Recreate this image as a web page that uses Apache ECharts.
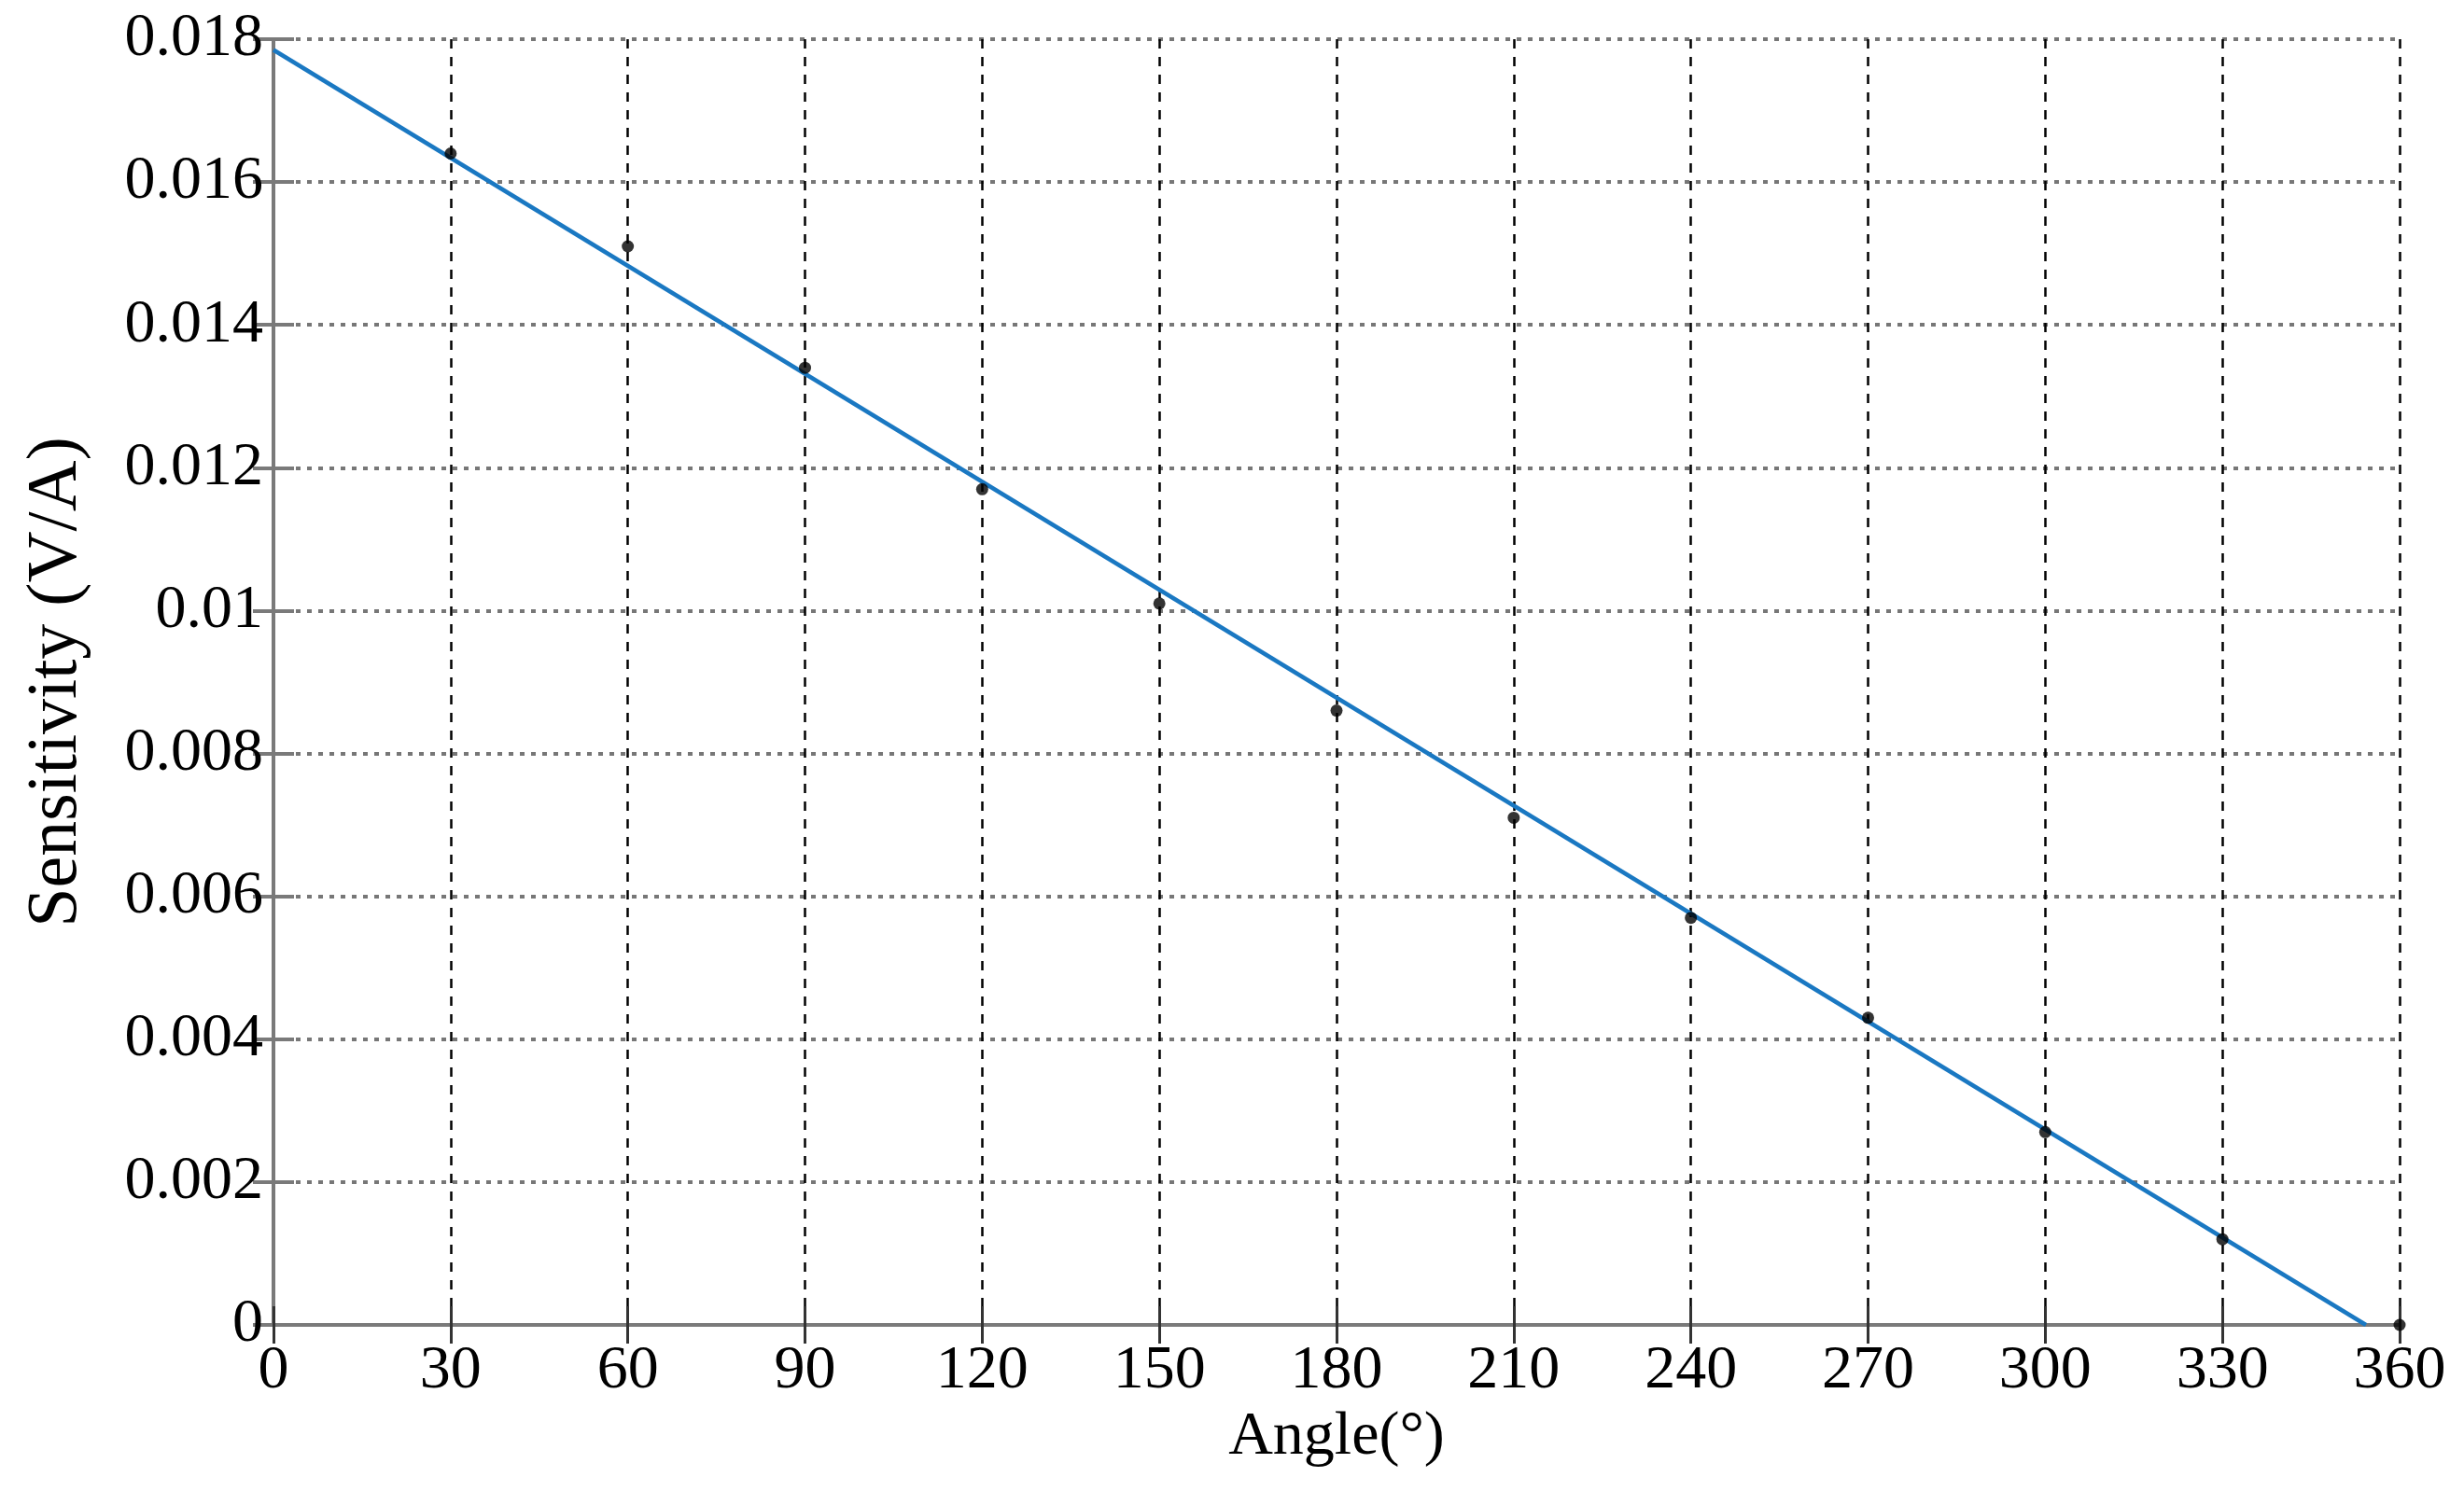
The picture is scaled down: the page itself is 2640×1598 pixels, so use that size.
<!DOCTYPE html>
<html>
<head>
<meta charset="utf-8">
<script src="https://cdn.jsdelivr.net/npm/echarts@6/dist/echarts.min.js"></script>
<style>
html,body{margin:0;padding:0;background:#fff;}
#c{width:2640px;height:1598px;}
</style>
</head>
<body>
<div id="c"></div>
<script>
// Measured points
const angles = [30, 60, 90, 120, 150, 180, 210, 240, 270, 300, 330, 360];
const sensitivity = [0.0164, 0.0151, 0.0134, 0.0117, 0.0101, 0.0086, 0.0071, 0.0057, 0.0043, 0.0027, 0.0012, 0.0000];
// Linear fit endpoints
const fitAngles = [0, 354.3];
const fitSensitivity = [0.01785, 0.0];
// Axis ticks
const xTicks = [0, 30, 60, 90, 120, 150, 180, 210, 240, 270, 300, 330, 360];
const yTicks = [0, 0.002, 0.004, 0.006, 0.008, 0.01, 0.012, 0.014, 0.016, 0.018];

const font = '"Liberation Serif", "DejaVu Serif", serif';
const chart = echarts.init(document.getElementById('c'));

const axisLine = {show: true, lineStyle: {color: '#7a7a7a', width: 4}};
const yTickStyle = {show: true, inside: true, length: 22, lineStyle: {color: '#7a7a7a', width: 4}};
const xTickStyle = {show: true, inside: true, length: 20, lineStyle: {color: '#333', width: 3}};

chart.setOption({
  backgroundColor: '#ffffff',
  animation: false,
  grid: {left: 293, right: 69, top: 42, bottom: 178, containLabel: false},
  xAxis: [{
    type: 'value', min: xTicks[0], max: xTicks[xTicks.length - 1], interval: 30,
    name: 'Angle(°)', nameLocation: 'middle', nameGap: 76,
    nameTextStyle: {fontFamily: font, fontSize: 66, color: '#000'},
    axisLine: axisLine, axisTick: xTickStyle,
    axisLabel: {fontFamily: font, fontSize: 66, color: '#000', margin: 17},
    splitLine: {show: true, lineStyle: {color: '#000', width: 2.5, type: [10, 9]}}
  }, {
    type: 'value', position: 'top', min: xTicks[0], max: xTicks[xTicks.length - 1], interval: 30,
    axisLine: axisLine, axisTick: xTickStyle, axisLabel: {show: false}, splitLine: {show: false}
  }],
  yAxis: [{
    type: 'value', min: yTicks[0], max: yTicks[yTicks.length - 1], interval: 0.002,
    name: 'Sensitivity (V/A)', nameLocation: 'middle', nameGap: 194,
    nameTextStyle: {fontFamily: font, fontSize: 76, color: '#000'},
    axisLine: axisLine, axisTick: yTickStyle,
    axisLabel: {fontFamily: font, fontSize: 66, color: '#000', margin: 11,
      formatter: v => String(parseFloat(v.toFixed(3)))},
    splitLine: {show: true, lineStyle: {color: '#777', width: 4, type: [5, 7]}}
  }, {
    type: 'value', position: 'right', min: yTicks[0], max: yTicks[yTicks.length - 1], interval: 0.002,
    axisLine: axisLine, axisTick: yTickStyle, axisLabel: {show: false}, splitLine: {show: false}
  }],
  series: [{
    type: 'line',
    data: fitAngles.map((a, i) => [a, fitSensitivity[i]]),
    showSymbol: false, symbol: 'none',
    lineStyle: {color: '#1a78c2', width: 4.5},
    z: 3
  }, {
    type: 'scatter',
    data: angles.map((a, i) => [a, sensitivity[i]]),
    symbol: 'circle', symbolSize: 13,
    itemStyle: {color: '#000'},
    z: 4
  }]
});
</script>
</body>
</html>
